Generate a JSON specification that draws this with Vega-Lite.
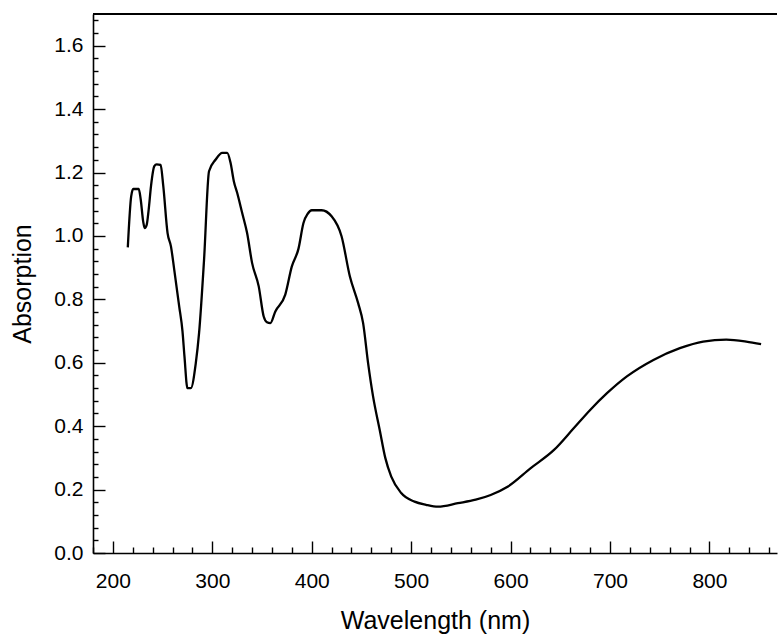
{
  "$schema": "https://vega.github.io/schema/vega-lite/v6.json",
  "width": 684,
  "height": 539,
  "autosize": {"type": "none"},
  "padding": {"left": 93, "top": 14, "right": 1, "bottom": 84},
  "background": "white",
  "config": {
    "view": {"stroke": null},
    "font": "Liberation Sans",
    "axis": {
      "grid": false,
      "domainColor": "black", "domainWidth": 1.6,
      "tickColor": "black", "tickWidth": 1.4,
      "labelColor": "black", "labelFontSize": 21, "labelFont": "Liberation Sans",
      "titleColor": "black", "titleFontSize": 25, "titleFontWeight": "normal", "titleFont": "Liberation Sans",
      "labelOverlap": false, "labelFlush": false
    }
  },
  "data": {"values": [
    {"wavelength": 215, "absorption": 0.964},
    {"wavelength": 218.4, "absorption": 1.125},
    {"wavelength": 220.5, "absorption": 1.148},
    {"wavelength": 226, "absorption": 1.148},
    {"wavelength": 228, "absorption": 1.115},
    {"wavelength": 230.5, "absorption": 1.045},
    {"wavelength": 232, "absorption": 1.025},
    {"wavelength": 234, "absorption": 1.035},
    {"wavelength": 236, "absorption": 1.083},
    {"wavelength": 238.4, "absorption": 1.159},
    {"wavelength": 241.7, "absorption": 1.22},
    {"wavelength": 244, "absorption": 1.226},
    {"wavelength": 248, "absorption": 1.224},
    {"wavelength": 250.7, "absorption": 1.157},
    {"wavelength": 255, "absorption": 1.009},
    {"wavelength": 258.4, "absorption": 0.967},
    {"wavelength": 261.7, "absorption": 0.894},
    {"wavelength": 266.7, "absorption": 0.778},
    {"wavelength": 270, "absorption": 0.7},
    {"wavelength": 272, "absorption": 0.62},
    {"wavelength": 275, "absorption": 0.52},
    {"wavelength": 278.4, "absorption": 0.52},
    {"wavelength": 283.4, "absorption": 0.599},
    {"wavelength": 286.7, "absorption": 0.694},
    {"wavelength": 291.7, "absorption": 0.925},
    {"wavelength": 296.7, "absorption": 1.204},
    {"wavelength": 303.4, "absorption": 1.241},
    {"wavelength": 310, "absorption": 1.262},
    {"wavelength": 315, "absorption": 1.262},
    {"wavelength": 318.4, "absorption": 1.23},
    {"wavelength": 321.7, "absorption": 1.172},
    {"wavelength": 325, "absorption": 1.136},
    {"wavelength": 330, "absorption": 1.073},
    {"wavelength": 335, "absorption": 1.009},
    {"wavelength": 340, "absorption": 0.915},
    {"wavelength": 346.7, "absorption": 0.841},
    {"wavelength": 351.7, "absorption": 0.746},
    {"wavelength": 355, "absorption": 0.728},
    {"wavelength": 358.4, "absorption": 0.725},
    {"wavelength": 363.4, "absorption": 0.762},
    {"wavelength": 373.4, "absorption": 0.815},
    {"wavelength": 380, "absorption": 0.904},
    {"wavelength": 386.7, "absorption": 0.96},
    {"wavelength": 391.7, "absorption": 1.041},
    {"wavelength": 396, "absorption": 1.07},
    {"wavelength": 400, "absorption": 1.081},
    {"wavelength": 410, "absorption": 1.081},
    {"wavelength": 420, "absorption": 1.062},
    {"wavelength": 430, "absorption": 0.999},
    {"wavelength": 438.4, "absorption": 0.872},
    {"wavelength": 446.7, "absorption": 0.788},
    {"wavelength": 451.7, "absorption": 0.725},
    {"wavelength": 456.7, "absorption": 0.599},
    {"wavelength": 461.7, "absorption": 0.494},
    {"wavelength": 468.4, "absorption": 0.388},
    {"wavelength": 474, "absorption": 0.3},
    {"wavelength": 480, "absorption": 0.241},
    {"wavelength": 490, "absorption": 0.189},
    {"wavelength": 503.4, "absorption": 0.162},
    {"wavelength": 515, "absorption": 0.152},
    {"wavelength": 527, "absorption": 0.146},
    {"wavelength": 547, "absorption": 0.157},
    {"wavelength": 565, "absorption": 0.168},
    {"wavelength": 580, "absorption": 0.183},
    {"wavelength": 597, "absorption": 0.209},
    {"wavelength": 620, "absorption": 0.267},
    {"wavelength": 643.7, "absorption": 0.325},
    {"wavelength": 663.7, "absorption": 0.394},
    {"wavelength": 680.3, "absorption": 0.452},
    {"wavelength": 697, "absorption": 0.504},
    {"wavelength": 717, "absorption": 0.557},
    {"wavelength": 743.7, "absorption": 0.609},
    {"wavelength": 770.3, "absorption": 0.646},
    {"wavelength": 793.7, "absorption": 0.667},
    {"wavelength": 817, "absorption": 0.673},
    {"wavelength": 837, "absorption": 0.667},
    {"wavelength": 852, "absorption": 0.659}
  ]},
  "resolve": {"axis": {"x": "independent", "y": "independent"}},
  "layer": [
    {
      "mark": {"type": "line", "color": "black", "strokeWidth": 2.3, "interpolate": "monotone", "clip": true},
      "encoding": {
        "x": {
          "field": "wavelength", "type": "quantitative",
          "scale": {"domain": [180, 868], "nice": false, "zero": false},
          "axis": {
            "orient": "bottom",
            "title": "Wavelength (nm)",
            "values": [200, 300, 400, 500, 600, 700, 800],
            "tickSize": -12,
            "labelPadding": 29,
            "titlePadding": 17
          }
        },
        "y": {
          "field": "absorption", "type": "quantitative",
          "scale": {"domain": [0, 1.7], "nice": false},
          "axis": {
            "orient": "left",
            "title": "Absorption",
            "values": [0, 0.2, 0.4, 0.6, 0.8, 1.0, 1.2, 1.4, 1.6],
            "format": ".1f",
            "tickSize": -12,
            "labelPadding": 22,
            "titlePadding": 18
          }
        }
      }
    },
    {
      "mark": {"type": "line", "strokeOpacity": 0, "clip": true},
      "encoding": {
        "x": {
          "field": "wavelength", "type": "quantitative",
          "axis": {
            "orient": "bottom",
            "title": null,
            "labels": false,
            "domain": false,
            "values": [180,220,240,260,280,320,340,360,380,420,440,460,480,520,540,560,580,620,640,660,680,720,740,760,780,820,840,860],
            "tickSize": -6
          }
        },
        "y": {
          "field": "absorption", "type": "quantitative",
          "axis": {
            "orient": "left",
            "title": null,
            "labels": false,
            "domain": false,
            "values": [0.04,0.08,0.12,0.16,0.24,0.28,0.32,0.36,0.44,0.48,0.52,0.56,0.64,0.68,0.72,0.76,0.84,0.88,0.92,0.96,1.04,1.08,1.12,1.16,1.24,1.28,1.32,1.36,1.44,1.48,1.52,1.56,1.64,1.68],
            "tickSize": -5
          }
        }
      }
    },
    {
      "mark": {"type": "rule", "color": "black", "strokeWidth": 1.6},
      "encoding": {"y": {"datum": 1.7, "axis": null}}
    }
  ]
}
